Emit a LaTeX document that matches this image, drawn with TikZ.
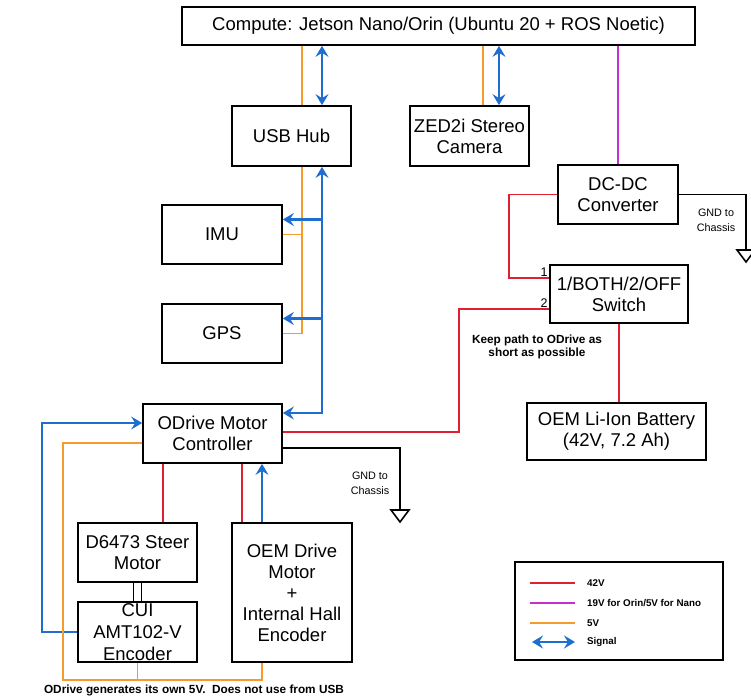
\documentclass[tikz,border=0pt]{standalone}
\usepackage{fontspec}
\setmainfont{Liberation Sans}
\usepackage{tikz}
\usetikzlibrary{arrows.meta}

\definecolor{redline}{RGB}{222,32,48}
\definecolor{purpline}{RGB}{200,45,205}
\definecolor{orngline}{RGB}{245,155,45}
\definecolor{blueline}{RGB}{30,110,210}

\begin{document}
\begin{tikzpicture}[x=1pt,y=-1pt,>={Stealth[length=11pt,width=13pt,inset=4pt]},
box/.style={draw,line width=1.7pt,align=center,inner sep=1pt,font=\fontsize{18.5}{21}\selectfont},
v42/.style={draw=redline,line width=1.7pt},
v19/.style={draw=purpline,line width=1.7pt},
v5/.style={draw=orngline,line width=1.7pt},
sig/.style={draw=blueline,line width=2.2pt},
gnd/.style={draw,line width=1.6pt},
note/.style={align=center,inner sep=0pt,font=\fontsize{11.8}{13}\selectfont\bfseries},
small/.style={align=center,inner sep=0pt,font=\fontsize{10.8}{15}\selectfont},
legtext/.style={anchor=west,inner sep=0pt,font=\fontsize{9.8}{11}\selectfont\bfseries}
]
\useasboundingbox (0,0) rectangle (751,700);

% boxes
\node[box,minimum width=513pt,minimum height=38pt] (compute) at (438.5,26) {Compute: Jetson Nano/Orin (Ubuntu 20 + ROS Noetic)};
\node[box,minimum width=119pt,minimum height=60pt] (usbhub) at (291.5,136) {USB Hub};
\node[box,minimum width=119pt,minimum height=60pt] (zed) at (469.5,136) {ZED2i Stereo\\Camera};
\node[box,minimum width=120pt,minimum height=59pt] (dcdc) at (618,194.5) {DC-DC\\Converter};
\node[box,minimum width=138pt,minimum height=58pt] (sw) at (619,294) {1/BOTH/2/OFF\\Switch};
\node[box,minimum width=179pt,minimum height=57pt] (battery) at (616.5,431.5) {OEM Li-Ion Battery\\(42V, 7.2 Ah)};
\node[box,minimum width=120pt,minimum height=59pt] (imu) at (222,234.5) {IMU};
\node[box,minimum width=120pt,minimum height=59pt] (gps) at (222,333.5) {GPS};
\node[box,minimum width=139pt,minimum height=59pt] (odrive) at (212.5,433.5) {ODrive Motor\\Controller};
\node[box,minimum width=119pt,minimum height=59pt] (steer) at (137.5,552.5) {D6473 Steer\\Motor};
\node[box,minimum width=119pt,minimum height=60pt,font=\fontsize{18.5}{22}\selectfont] (enc) at (137.5,632) {CUI\\AMT102-V\\Encoder};
\node[box,minimum width=120pt,minimum height=139pt] (drive) at (292,592.5) {OEM Drive\\Motor\\+\\Internal Hall\\Encoder};

% USB side
\coordinate (obus) at ([xshift=10.5pt]usbhub.south);
\coordinate (bbus) at ([xshift=30.5pt]usbhub.south);
\draw[v5] ([xshift=10.5pt]usbhub.north) -- ([xshift=10.5pt]usbhub.north |- compute.south);
\draw[sig,<->] ([xshift=30.5pt]usbhub.north) -- ([xshift=30.5pt]usbhub.north |- compute.south);
\draw[v5] ([xshift=13.5pt]zed.north) -- ([xshift=13.5pt]zed.north |- compute.south);
\draw[sig,<->] ([xshift=29.5pt]zed.north) -- ([xshift=29.5pt]zed.north |- compute.south);
\draw[v5] (obus) |- (gps.east);
\draw[v5] (imu.east) -- (imu.east -| obus);
\draw[sig,<->] ([yshift=20.5pt]odrive.east) -| (bbus);
\draw[sig,->] ([yshift=15pt]imu.east -| bbus) -- ([yshift=15pt]imu.east);
\draw[sig,->] ([yshift=15pt]gps.east -| bbus) -- ([yshift=15pt]gps.east);

% power
\draw[v19] (dcdc.north) -- (dcdc.north |- compute.south);
\draw[v42] (dcdc.west) -- ++(-48,0) |- ([yshift=16pt]sw.west);
\draw[v42] ([yshift=-15pt]sw.west) -- ++(-90,0) |- ([yshift=1.5pt]odrive.east);
\draw[v42] (sw.south) -- (sw.south |- battery.north);
\node[inner sep=1.5pt,anchor=south east,font=\fontsize{12.5}{14}\selectfont] at ([yshift=16pt]sw.west) {1};
\node[inner sep=1.5pt,anchor=south east,font=\fontsize{12.5}{14}\selectfont] at ([yshift=-15pt]sw.west) {2};
\node[note] (keep) at (537,347) {Keep path to ODrive as\\short as possible};

% grounds
\coordinate (gnd1) at (746,250);
\draw[gnd] (dcdc.east) -| (gnd1);
\draw[gnd] (gnd1) ++(-9,0) -- ++(18,0) -- ++(-9,12) -- cycle;
\node[small] at (716,220) {GND to\\Chassis};
\coordinate (gnd2) at (400,510);
\draw[gnd] ([yshift=-14.5pt]odrive.east) -| (gnd2);
\draw[gnd] (gnd2) ++(-9,0) -- ++(18,0) -- ++(-9,12) -- cycle;
\node[small] at (370,483) {GND to\\Chassis};

% motors
\draw[v42] ([xshift=25.5pt]steer.north) -- ([xshift=25.5pt]steer.north |- odrive.south);
\draw[v42] ([xshift=-50pt]drive.north) -- ([xshift=-50pt]drive.north |- odrive.south);
\draw[sig,->] ([xshift=-30pt]drive.north) -- ([xshift=-30pt]drive.north |- odrive.south);
\draw[gnd] ([xshift=-4pt]steer.south) -- ([xshift=-4pt]enc.north);
\draw[gnd] ([xshift=4pt]steer.south) -- ([xshift=4pt]enc.north);
\draw[sig,->] (enc.west) -- ++(-35,0) |- ([yshift=10.5pt]odrive.west);
\coordinate (ob) at (63,680);
\draw[v5] ([yshift=-9.5pt]odrive.west) -| (ob) -| ([xshift=-30pt]drive.south);
\draw[v5] (enc.south) -- (enc.south |- ob);
\node[note] (odnote) at (194,690) {ODrive generates its own 5V.\ \ Does not use from USB};

% legend
\node[draw,line width=1.7pt,minimum width=208pt,minimum height=98pt] (legend) at (619,611) {};
\node[legtext] (l42) at (587,583) {42V};
\node[legtext] (l19) at (587,603) {19V for Orin/5V for Nano};
\node[legtext] (l5) at (587,623) {5V};
\node[legtext] (lsig) at (587,642) {Signal};
\draw[v42] ([xshift=-57pt]l42.west) -- ([xshift=-12pt]l42.west);
\draw[v19] ([xshift=-57pt]l19.west) -- ([xshift=-12pt]l19.west);
\draw[v5] ([xshift=-57pt]l5.west) -- ([xshift=-12pt]l5.west);
\draw[sig,<->] ([xshift=-55pt]lsig.west) -- ([xshift=-12pt]lsig.west);
\end{tikzpicture}
\end{document}
